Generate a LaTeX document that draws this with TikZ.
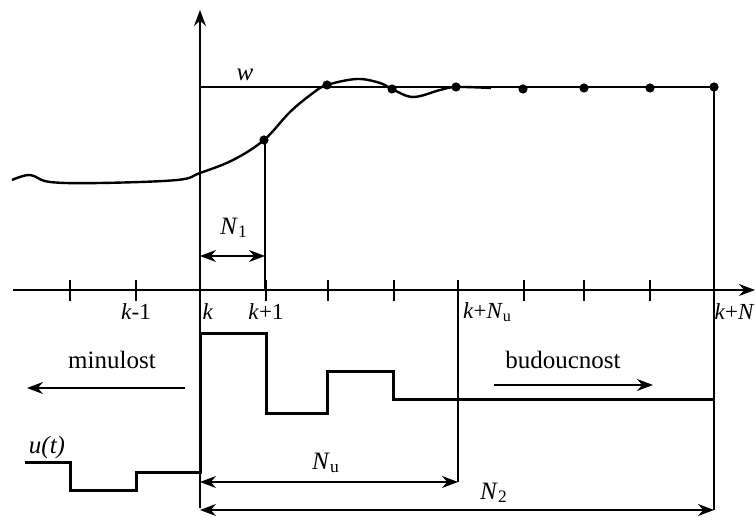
\documentclass[tikz,border=0pt]{standalone}
\usepackage{fontspec}
\setmainfont{Liberation Serif}
\usetikzlibrary{arrows.meta}

\begin{document}
\begin{tikzpicture}[>={Stealth[length=8pt, width=6pt]}, x=0.5pt, y=-0.5pt,
  font=\fontsize{12.5}{15}\selectfont,
  axisline/.style={line width=0.75pt},
  signal/.style={line width=1.5pt, line join=miter},
  tick/.style={font=\fontsize{11.5}{14}\selectfont}]
  \useasboundingbox (0,0) rectangle (755,517);
  \draw[axisline, ->] (13,290)--(755,290);
  \draw[axisline, ->] (200,508)--(200,10);
  \foreach \x in {70,136,266,328,394,458,524,584,650,714} \draw[axisline] (\x,280)--(\x,301);
  \node[tick] (km1) at (136,312){\textit{k}-1};
  \node[tick] (k) at (208,312){\textit{k}};
  \node[tick] (kp1) at (266,312){\textit{k}+1};
  \node[tick, anchor=west] (kNu) at (456,312){\textit{k}+\textit{N}\textsubscript{u}};
  \node[tick, anchor=east, inner xsep=0pt] (kN) at (755,312){\textit{k}+\textit{N}};
  \draw[axisline] (200,87)--(714,87)--(714,510); \node (w) at (245,75){\textit{w}};
  \draw[line width=1.2pt] plot[smooth, tension=0.6] coordinates {(12,180) (30,175) (50,182) (100,183) (177,180) (200,173) (233,160) (264,140) (290,112) (313,93) (327,85) (357,79) (380,83) (392,89) (413,97) (440,90) (456,87) (491,88)};
  \foreach \x/\y in {264/140, 327/85, 392/89, 456/87, 523/89, 584/88, 650/88, 714/87} \fill (\x,\y) circle (2.3pt);
  \draw[axisline] (265,140)--(265,290);
  \draw[axisline, <->] (200,256)--(265,256); \node (n1) at (234,228){\textit{N}\textsubscript{1}};
  \draw[signal] (25,463) -| (70,491) -| (136,473) -| (200,334) -| (266,414) -| (327,372) -| (393,400) -- (714,400);
  \node (ut) at (47,447){\textit{u(t)}};
  \node (past) at (112,360){minulost}; \draw[axisline, ->] (185,388)--(27,388);
  \node (future) at (563,360){budoucnost}; \draw[axisline, ->] (494,385)--(653,385);
  \draw[axisline] (458,301)--(458,482);
  \draw[axisline, <->] (200,482)--(458,482); \node (nu) at (326,463){\textit{N}\textsubscript{u}};
  \draw[axisline, <->] (200,510)--(714,510); \node (n2) at (494,493){\textit{N}\textsubscript{2}};
\end{tikzpicture}
\end{document}
